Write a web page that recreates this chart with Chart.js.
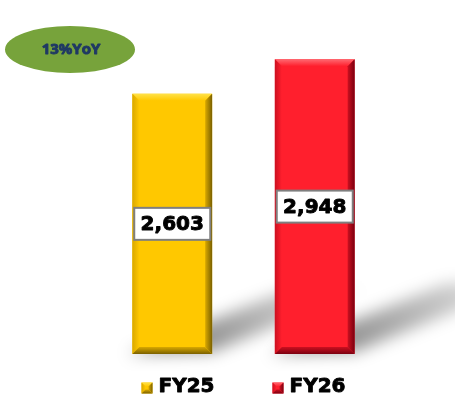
<!DOCTYPE html>
<html>
<head>
<meta charset="utf-8">
<script src="https://cdn.jsdelivr.net/npm/chart.js@4"></script>
<style>
    html, body { margin: 0; padding: 0; background: #ffffff; }
    #chart { display: block; }
</style>
</head>
<body>
<canvas id="chart" width="455" height="401"></canvas>
<script>
// --- data ---
const categories = ['FY25', 'FY26'];
const revenue = [2603, 2948];
const barColors = ['#ffc800', '#ff1f2d'];
const bevelLight = ['#ffe24a', '#ff6a72'];
const bevelDark = ['#7a6000', '#7a0010'];
const bevelMid = ['#d9a800', '#cc1020'];
const yoyLabel = '13%YoY';
const yMax = 3400;

// --- helpers ---
function quad(ctx, pts, fill) {
    ctx.beginPath();
    ctx.moveTo(pts[0][0], pts[0][1]);
    for (let i = 1; i < pts.length; i++) ctx.lineTo(pts[i][0], pts[i][1]);
    ctx.closePath();
    ctx.fillStyle = fill;
    ctx.fill();
}

/** 베벨 사각형 (막대 + 범례 상자 공용) */
function drawBevel(ctx, l, t, r, b, bw, i) {
    // top
    let g = ctx.createLinearGradient(0, t, 0, t + bw);
    g.addColorStop(0, bevelLight[i]);
    g.addColorStop(1, barColors[i]);
    quad(ctx, [[l, t], [r, t], [r - bw, t + bw], [l + bw, t + bw]], g);
    // left
    g = ctx.createLinearGradient(l, 0, l + bw, 0);
    g.addColorStop(0, bevelMid[i]);
    g.addColorStop(1, barColors[i]);
    quad(ctx, [[l, t], [l + bw, t + bw], [l + bw, b - bw], [l, b]], g);
    // right
    g = ctx.createLinearGradient(r - bw, 0, r, 0);
    g.addColorStop(0, bevelMid[i]);
    g.addColorStop(1, bevelDark[i]);
    quad(ctx, [[r, t], [r, b], [r - bw, b - bw], [r - bw, t + bw]], g);
    // bottom
    g = ctx.createLinearGradient(0, b - bw, 0, b);
    g.addColorStop(0, bevelMid[i]);
    g.addColorStop(1, bevelDark[i]);
    quad(ctx, [[l, b], [r, b], [r - bw, b - bw], [l + bw, b - bw]], g);
}

/** 굵은 글자 (살짝 외곽선으로 두께 보정) */
function heavyText(ctx, text, x, y, color) {
    ctx.fillStyle = color;
    ctx.strokeStyle = color;
    ctx.lineWidth = 0.9;
    ctx.lineJoin = 'round';
    ctx.strokeText(text, x, y);
    ctx.fillText(text, x, y);
}

// --- plugins ---
const backdropPlugin = {
    id: 'backdrop',
    beforeDatasetsDraw(chart) {
        const ctx = chart.ctx;
        const meta = chart.getDatasetMeta(0);

        // 바닥 그림자
        meta.data.forEach(bar => {
            const l = bar.x - bar.width / 2;
            const r = bar.x + bar.width / 2;
            const b = bar.base;
            const len = (b - bar.y) * 0.6;
            const dy = len * 0.4;
            ctx.save();
            ctx.filter = 'blur(8px)';
            const g = ctx.createLinearGradient(r, b, r + len, b - dy);
            g.addColorStop(0, 'rgba(0,0,0,0.42)');
            g.addColorStop(0.6, 'rgba(0,0,0,0.2)');
            g.addColorStop(1, 'rgba(0,0,0,0.0)');
            quad(ctx, [[l - 5, b], [r, b - 2], [r + len, b - dy - 2], [l + len - 5, b - dy]], g);
            ctx.restore();
        });

        // YoY 타원
        ctx.save();
        ctx.beginPath();
        ctx.ellipse(70, 49.5, 65, 23.5, 0, 0, Math.PI * 2);
        ctx.fillStyle = '#77a33b';
        ctx.fill();
        ctx.font = 'bold 15px "Open Sans", "Liberation Sans", sans-serif';
        ctx.textAlign = 'center';
        ctx.textBaseline = 'middle';
        heavyText(ctx, yoyLabel, 71, 50, '#1f3864');
        ctx.restore();
    }
};

const bevelPlugin = {
    id: 'bevel',
    afterDatasetsDraw(chart) {
        const ctx = chart.ctx;
        const meta = chart.getDatasetMeta(0);

        meta.data.forEach((bar, i) => {
            const l = bar.x - bar.width / 2;
            const r = bar.x + bar.width / 2;
            drawBevel(ctx, l, bar.y, r, bar.base, 7, i);

            // 값 라벨 상자
            const cy = (bar.y + bar.base) / 2;
            const bw = 76, bh = 32;
            ctx.save();
            ctx.fillStyle = '#ffffff';
            ctx.fillRect(bar.x - bw / 2, cy - bh / 2, bw, bh);
            ctx.strokeStyle = '#7f7f7f';
            ctx.lineWidth = 2;
            ctx.strokeRect(bar.x - bw / 2, cy - bh / 2, bw, bh);
            ctx.font = 'bold 20px "DejaVu Sans", sans-serif';
            ctx.textAlign = 'center';
            ctx.textBaseline = 'middle';
            heavyText(ctx, revenue[i].toLocaleString('en-US'), bar.x, cy + 1, '#000000');
            ctx.restore();
        });

        // 범례
        ctx.save();
        ctx.font = 'bold 20px "DejaVu Sans", sans-serif';
        ctx.textBaseline = 'middle';
        ctx.textAlign = 'left';
        const box = 11, gap = 6, itemGap = 58;
        const widths = categories.map(c => box + gap + ctx.measureText(c).width);
        const total = widths.reduce((a, w) => a + w, 0) + itemGap * (categories.length - 1);
        let x = (chart.chartArea.left + chart.chartArea.right) / 2 - total / 2;
        const y = chart.chartArea.bottom + 33;
        categories.forEach((c, i) => {
            const bt = y - box / 2 + 1;
            ctx.fillStyle = barColors[i];
            ctx.fillRect(x, bt, box, box);
            drawBevel(ctx, x, bt, x + box, bt + box, 4, i);
            heavyText(ctx, c, x + box + gap, y, '#000000');
            x += widths[i] + itemGap;
        });
        ctx.restore();
    }
};

// --- chart ---
new Chart(document.getElementById('chart'), {
    type: 'bar',
    data: {
        labels: categories,
        datasets: [{
            data: revenue,
            backgroundColor: barColors,
            borderWidth: 0,
            barPercentage: 0.56,
            categoryPercentage: 1
        }]
    },
    options: {
        responsive: false,
        animation: false,
        layout: {
            padding: { left: 101, right: 69, top: 14, bottom: 47 }
        },
        scales: {
            x: { display: false },
            y: { display: false, min: 0, max: yMax }
        },
        plugins: {
            legend: { display: false },
            tooltip: { enabled: false }
        }
    },
    plugins: [backdropPlugin, bevelPlugin]
});
</script>
</body>
</html>
